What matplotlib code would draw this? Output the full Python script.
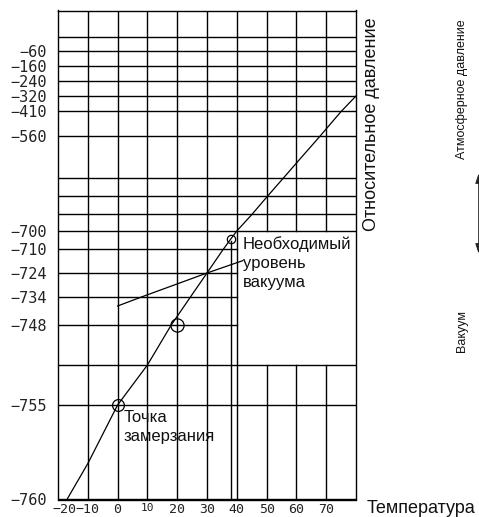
import numpy as np
import matplotlib.pyplot as plt
from matplotlib.patches import FancyArrowPatch
from matplotlib.transforms import ScaledTranslation

# Temperature axis (deg C)
temp_ticks = [-20, -10, 0, 10, 20, 30, 40, 50, 60, 70]
temp_grid = [-10, 0, 10, 20, 30, 40, 50, 60, 70]

# Pressure axis (mm Hg, gauge): labelled and unlabelled grid lines
press_labelled = [-60, -160, -240, -320, -410, -560, -700, -710, -724, -734, -748, -755, -760]
press_unlabelled = [0, -640, -670, -690, -752]

# Saturation curve
curve_t = [-17, -10, 0, 10, 18, 25, 30, 35, 38, 40, 45, 50, 56, 60, 68, 70, 75, 80]
curve_p = [-760, -758.1, -755, -752, -748, -733, -724, -711.3, -704.4, -700,
           -690.4, -671.4, -637.7, -611.6, -559.4, -517.4, -413, -320]

# Leader line to "required vacuum" label
lead_t = [0, 8, 30, 42]
lead_p = [-738.5, -734, -724, -716.8]

# Marked points: freezing point, 20 C, required vacuum
mark_t = [0, 20, 38]
mark_p = [-755, -748, -704.4]
mark_size = [8.5, 9.5, 6]

# non-linear pressure scale: pressure value -> relative height on the sheet
knot_p = [-760, -755, -752, -748, -734, -724, -710, -700, -690, -670, -640,
          -560, -410, -320, -240, -160, -60, 0, 100]
knot_h = [499.5, 405, 365, 325, 297, 273, 249, 231, 214, 196, 178,
          136, 111, 96, 81, 66, 51, 37, 10.5]


def fwd(p):
    return -np.interp(p, knot_p, knot_h)


def inv(q):
    return np.interp(-np.asarray(q), knot_h[::-1], knot_p[::-1])


W, H = 479, 517
fig = plt.figure(figsize=(W / 100, H / 100), dpi=100)
ax = fig.add_axes([58 / W, 1 - 499.5 / H, 298 / W, 489 / H])
ax.set_yscale('function', functions=(fwd, inv))
ax.set_xlim(-20, 80)
ax.set_ylim(-760, 100)

lw = 1.0
col = 'black'

# horizontal grid; the label box (40..80, -752..-700) stays empty
for p in press_labelled + press_unlabelled:
    if -752 < p < -700:
        ax.plot([-20, 40], [p, p], color=col, lw=lw)
    else:
        ax.plot([-20, 80], [p, p], color=col, lw=lw)

# vertical grid
for t in temp_grid:
    if t > 40:
        ax.plot([t, t], [-760, -752], color=col, lw=lw)
        ax.plot([t, t], [-700, 100], color=col, lw=lw)
    else:
        ax.plot([t, t], [-760, 100], color=col, lw=lw)

# curve, leader, markers
ax.plot(curve_t, curve_p, color=col, lw=0.9)
ax.plot(lead_t, lead_p, color=col, lw=0.9)
ax.plot([mark_t[2], mark_t[2]], [-760, mark_p[2] - 1.2], color=col, lw=lw)
for t, p, s in zip(mark_t, mark_p, mark_size):
    ax.plot(t, p, 'o', mfc='none', mec=col, mew=0.9, ms=s)

for sp in ax.spines.values():
    sp.set_color(col)
    sp.set_linewidth(lw)

ax.set_yticks(press_labelled)
ax.set_yticklabels([f'\u2212{abs(v)}' for v in press_labelled],
                   family='DejaVu Sans Mono', fontsize=11, color='#222222')
ax.set_xticks(temp_ticks)
ax.set_xticklabels([f'\u2212{abs(v)}' if v < 0 else str(v) for v in temp_ticks],
                   family='DejaVu Sans Mono', fontsize=9.5, color='#222222')
ax.tick_params(axis='y', length=0, pad=8)
ax.tick_params(axis='x', length=0, pad=2.5)
xl = ax.get_xticklabels()
xl[0].set_transform(xl[0].get_transform() + ScaledTranslation(6 / 100, 0, fig.dpi_scale_trans))
xl[3].set_fontsize(8)

txt = dict(family='Liberation Sans', color='#111111')


def px(x, y):
    return x / W, 1 - y / H


fig.text(*px(124, 422), 'Точка', fontsize=12, va='baseline', **txt)
fig.text(*px(124, 441), 'замерзания', fontsize=12, va='baseline', **txt)
fig.text(*px(243, 249), 'Необходимый', fontsize=12, va='baseline', **txt)
fig.text(*px(243, 268), 'уровень', fontsize=12, va='baseline', **txt)
fig.text(*px(243, 287), 'вакуума', fontsize=12, va='baseline', **txt)
fig.text(*px(367, 513), 'Температура', fontsize=13, va='baseline', **txt)
fig.text(*px(372, 124), 'Относительное давление', fontsize=13, rotation=90,
         ha='center', va='center', **txt)
fig.text(*px(462, 89), 'Атмосферное давление', fontsize=9, rotation=90,
         ha='center', va='center', **txt)
fig.text(*px(462, 331), 'Вакуум', fontsize=9, rotation=90,
         ha='center', va='center', **txt)

arr = FancyArrowPatch(px(478.5, 256), px(478.5, 171), transform=fig.transFigure,
                      arrowstyle='<|-|>,head_length=6,head_width=2', color='#222222',
                      lw=0.6, mutation_scale=1)
fig.patches.append(arr)

fig.savefig('out.png', dpi=100)
